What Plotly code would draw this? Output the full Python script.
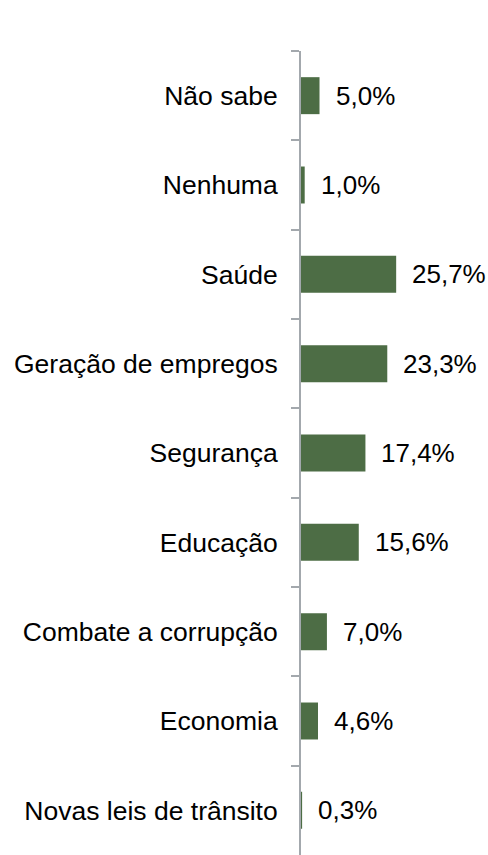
import plotly.graph_objects as go

categories = ["Não sabe", "Nenhuma", "Saúde", "Geração de empregos", "Segurança",
              "Educação", "Combate a corrupção", "Economia", "Novas leis de trânsito"]
values = [5.0, 1.0, 25.7, 23.3, 17.4, 15.6, 7.0, 4.6, 0.3]
labels = [f"{v:.1f}%".replace(".", ",") for v in values]

FONT = "Liberation Sans, Arial"

fig = go.Figure()
fig.add_trace(go.Bar(
    x=values, y=categories, orientation="h",
    marker=dict(color="#4d6d45", line=dict(width=0)),
    hoverinfo="skip",
))

for v, c, t in zip(values, categories, labels):
    fig.add_annotation(x=v, y=c, text=t, showarrow=False, xanchor="left",
                       xshift=14, font=dict(family=FONT, size=26, color="#000"))

fig.update_layout(
    width=488, height=855,
    margin=dict(l=301, r=0, t=51, b=0),
    paper_bgcolor="white", plot_bgcolor="white",
    bargap=0.586,
    showlegend=False,
    font=dict(family=FONT, size=26, color="#000"),
    xaxis=dict(range=[0, 50.5], visible=False, fixedrange=True),
    yaxis=dict(
        categoryorder="array", categoryarray=categories, range=[8.5, -0.5],
        showline=True, linecolor="#a3a8ad", linewidth=2,
        ticks="outside", ticklen=8, tickwidth=2, tickcolor="#a3a8ad",
        tickson="boundaries", showgrid=False, zeroline=False, fixedrange=True,
        ticklabelstandoff=16,
        tickfont=dict(family=FONT, size=26.5, color="#000"),
    ),
)

fig.write_html(
    "out.html",
    config={"displayModeBar": False, "staticPlot": True},
    post_script="document.body.style.margin='0';document.body.style.overflow='hidden';",
)
